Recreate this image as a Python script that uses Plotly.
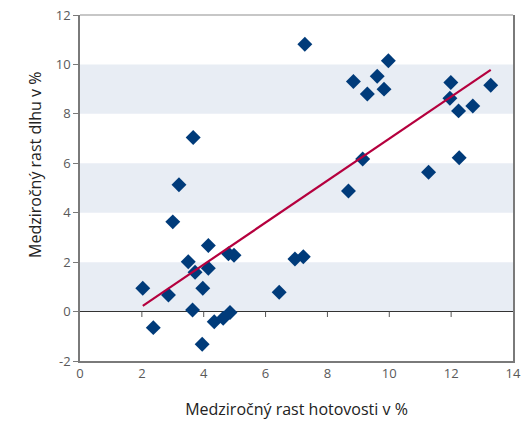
import plotly.graph_objects as go

# Data
cash_growth = [7.27, 9.97, 8.84, 9.61, 9.29, 9.83, 11.99, 11.96, 12.24, 12.70, 13.28,
               9.14, 12.26, 11.27, 8.68, 3.66, 3.20, 3.00, 4.15, 3.50, 3.72, 4.15,
               4.80, 4.98, 2.03, 2.86, 3.97, 3.64, 2.37, 4.34, 4.63, 4.85, 3.95,
               6.44, 6.95, 7.22]
debt_growth = [10.82, 10.15, 9.31, 9.52, 8.80, 9.00, 9.27, 8.63, 8.12, 8.32, 9.16,
               6.17, 6.22, 5.64, 4.88, 7.04, 5.13, 3.63, 2.67, 2.02, 1.59, 1.75,
               2.34, 2.28, 0.94, 0.67, 0.94, 0.06, -0.65, -0.41, -0.27, -0.04, -1.32,
               0.78, 2.13, 2.22]

trend_x = [2.03, 13.28]
trend_y = [0.23, 9.78]

x_ticks = [0, 2, 4, 6, 8, 10, 12, 14]
y_ticks = [-2, 0, 2, 4, 6, 8, 10, 12]
y_tick_labels = ["-2", "0", "2", "4", "6", "8", "10", "12"]
bands = [(0, 2), (4, 6), (8, 10)]

x_title = "Medziročný rast hotovosti v %"
y_title = "Medziročný rast dlhu v %"

fig = go.Figure()

fig.add_trace(go.Scatter(
    x=cash_growth, y=debt_growth, mode="markers",
    marker=dict(symbol="diamond", size=11.5, color="#003B7A", line=dict(width=0)),
    showlegend=False, hoverinfo="x+y"))

fig.add_trace(go.Scatter(
    x=trend_x, y=trend_y, mode="lines",
    line=dict(color="#B5003E", width=2.2),
    showlegend=False, hoverinfo="skip"))

shapes = []
for b0, b1 in bands:
    shapes.append(dict(type="rect", xref="paper", yref="y", x0=0, x1=1, y0=b0, y1=b1,
                       fillcolor="#E8EDF4", line=dict(width=0), layer="below"))
# tick marks hanging from the zero line
for t in x_ticks[1:-1]:
    shapes.append(dict(type="line", xref="x", yref="y", x0=t, x1=t, y0=0, y1=-0.22,
                       line=dict(color="#555555", width=1)))
# top frame line (lighter)
shapes.append(dict(type="line", xref="paper", yref="paper", x0=0, x1=1, y0=1, y1=1,
                   line=dict(color="#B4B4B4", width=1.5)))

# the page body has an 8px margin, so the figure is offset by 8px
fig.update_layout(
    width=532, height=424,
    margin=dict(l=72, r=27, t=7, b=71),
    paper_bgcolor="white", plot_bgcolor="white",
    font=dict(family="Open Sans, Noto Sans, sans-serif", color="#595959", size=13),
    shapes=shapes,
    xaxis=dict(range=[0, 14], tickvals=x_ticks, showgrid=False, zeroline=False,
               showline=True, linecolor="#7A7A7A", linewidth=1.5, mirror=False,
               ticks="", tickfont=dict(size=13, color="#595959"), automargin=False,
               ticklabeloverflow="allow",
               title=dict(text=x_title, font=dict(size=16, color="#222222"), standoff=22)),
    yaxis=dict(range=[-2, 12], tickvals=y_ticks, ticktext=y_tick_labels, showgrid=False,
               zeroline=True, zerolinecolor="#333333", zerolinewidth=1,
               showline=True, linecolor="#7A7A7A", linewidth=1.5, mirror=True,
               ticks="outside", ticklen=5, tickcolor="#7A7A7A", automargin=False,
               ticklabeloverflow="allow",
               tickfont=dict(size=13, color="#595959")),
    annotations=[dict(text=y_title, xref="paper", yref="paper", x=-0.104, y=0.5665,
                      xanchor="center", yanchor="middle", textangle=-90, showarrow=False,
                      font=dict(size=16, color="#222222"))],
)

fig.write_html("out.html")
